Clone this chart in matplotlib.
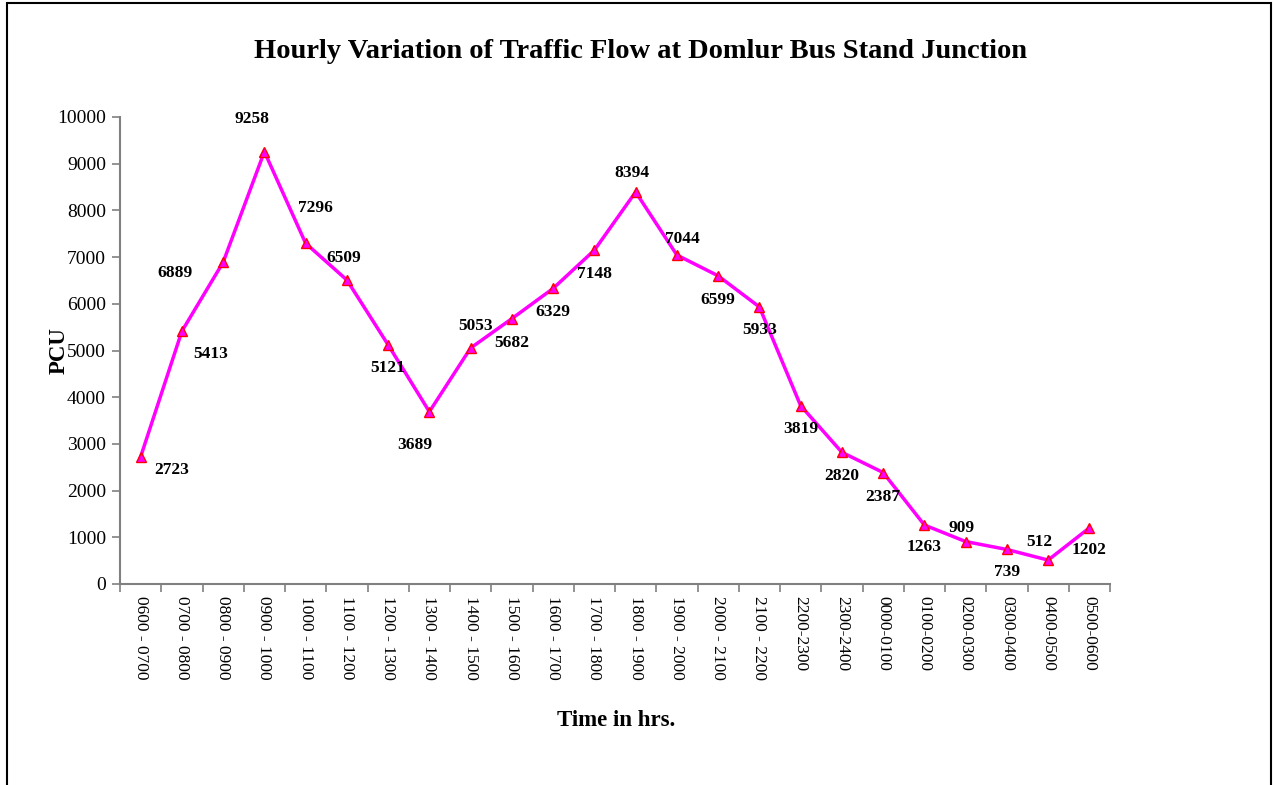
import numpy as np
import matplotlib
matplotlib.use("Agg")
import matplotlib.pyplot as plt
from matplotlib.patches import Rectangle

categories = ["0600 - 0700", "0700 - 0800", "0800 - 0900", "0900 - 1000",
              "1000 - 1100", "1100 - 1200", "1200 - 1300", "1300 - 1400",
              "1400 - 1500", "1500 - 1600", "1600 - 1700", "1700 - 1800",
              "1800 - 1900", "1900 - 2000", "2000 - 2100", "2100 - 2200",
              "2200-2300", "2300-2400", "0000-0100", "0100-0200",
              "0200-0300", "0300-0400", "0400-0500", "0500-0600"]
pcu = [2723, 5413, 6889, 9258, 7296, 6509, 5121, 3689, 5053, 5682, 6329, 7148,
       8394, 7044, 6599, 5933, 3819, 2820, 2387, 1263, 909, 739, 512, 1202]
# label offsets in pixels (dx, dy) mimicking the original label placement
label_dx = [31, 29, -48, -12, 10, -3, 0, -15, 5, 0, 0, 0,
            -4, 5, 0, 0, 0, 0, 0, 0, -4, 0, -9, 0]
label_dy = [-13, -23, -11, 33, 35, 22, -23, -33, 22, -24, -24, -24,
            19, 16, -24, -23, -23, -24, -24, -22, 14, -23, 18, -22]

serif = ["Liberation Serif", "DejaVu Serif"]
plt.rcParams['font.family'] = serif

fig = plt.figure(figsize=(12.74, 7.85), dpi=100)
ax = fig.add_axes([120/1274, 1-584/785, 990/1274, 467/785])

x = np.arange(len(categories))
ax.plot(x, pcu, color="#FF00FF", lw=2.5, marker="^", markersize=7,
        markerfacecolor="#FF00FF", markeredgecolor="#FF0000", markeredgewidth=1.0,
        zorder=3)

for xi, v, dx, dy in zip(x, pcu, label_dx, label_dy):
    ax.annotate(str(v), (xi, v), xytext=(dx, dy), textcoords="offset pixels",
                ha="center", va="center", fontsize=12.5, fontweight="bold",
                color="black")

ax.set_xlim(-0.5, len(categories) - 0.5)
ax.set_ylim(0, 10000)
ax.set_yticks(np.arange(0, 10001, 1000))
ax.set_xticks(x)
ax.set_xticklabels(categories, rotation=-90, fontsize=12.5)
ax.set_xticks(np.arange(-0.5, len(categories)), minor=True)
ax.tick_params(axis="x", which="major", length=0, pad=9)
ax.tick_params(axis="x", which="minor", length=6, width=1.2, color="#808080")
ax.tick_params(axis="y", which="major", length=6, width=1.2, color="#808080",
               labelsize=14, pad=4)

for s in ["top", "right"]:
    ax.spines[s].set_visible(False)
for s in ["left", "bottom"]:
    ax.spines[s].set_color("#808080")
    ax.spines[s].set_linewidth(1.5)

ax.set_ylabel("PCU", fontsize=16.5, fontweight="bold", labelpad=2)
ax.yaxis.set_label_coords(-50/990, (584-351)/467)
ax.set_xlabel("Time in hrs.", fontsize=16.5, fontweight="bold")
ax.xaxis.set_label_coords((616-120)/990, -(710-584)/467)

fig.text(641/1274, 1-51/785, "Hourly Variation of Traffic Flow at Domlur Bus Stand Junction",
         ha="center", va="center", fontsize=20.5, fontweight="bold")

fig.patches.append(Rectangle((7/1274, -0.1), 1264/1274, 1.1 - 3/785,
                             transform=fig.transFigure, fill=False,
                             edgecolor="black", linewidth=1.5))

fig.savefig("out.png", dpi=100)
